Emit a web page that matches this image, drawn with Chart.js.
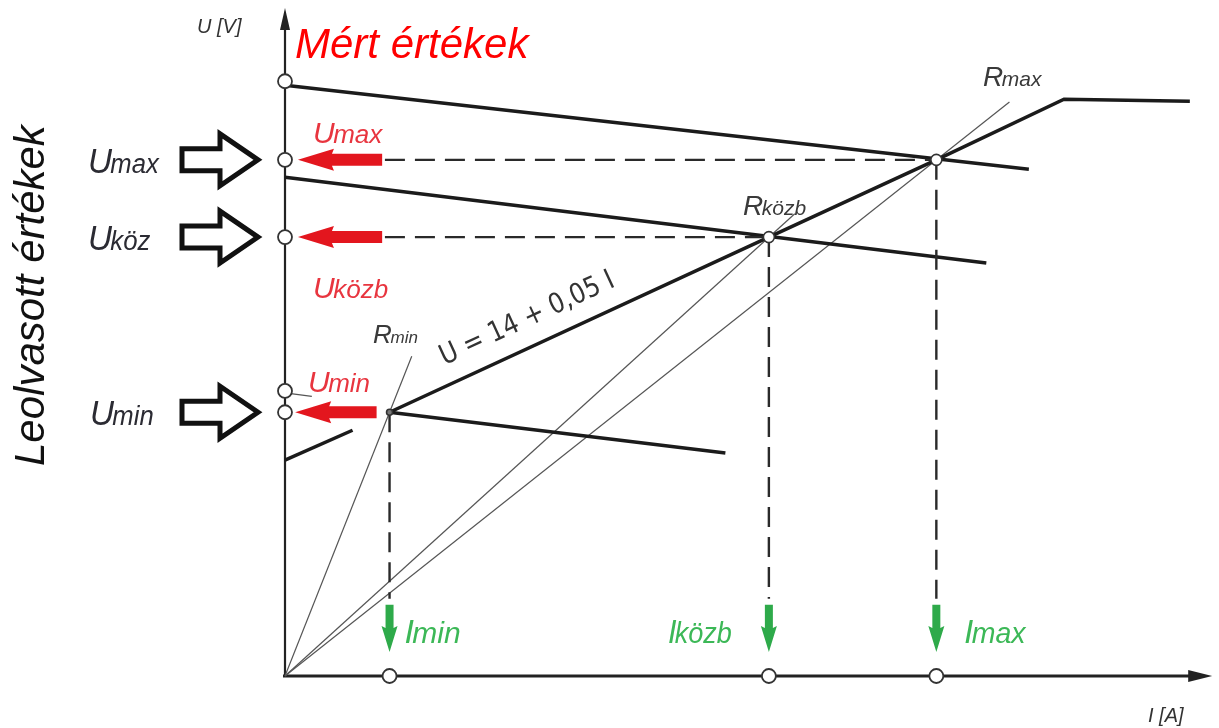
<!DOCTYPE html>
<html>
<head>
<meta charset="utf-8">
<script src="https://cdn.jsdelivr.net/npm/chart.js@4.4.0/dist/chart.umd.min.js"></script>
<style>
  html, body { margin: 0; padding: 0; background: #fff; }
  #wrap { width: 1219px; height: 728px; }
</style>
</head>
<body>
<div id="wrap"><canvas id="chart" width="1219" height="728"></canvas></div>
<script>
// operating points (I, U) in diagram units
var pointNames = ['min', 'közb', 'max'];
var pointI = [11.3, 52.3, 70.4];
var pointU = [39.6, 65.9, 77.5];

// source characteristic U = 14 + 0,05 I, broken by the Umin arrow, then limited
var charAI = [0, 7.3];
var charAU = [32.4, 36.9];
var charBI = [11.3, 52.3, 70.4, 84.2, 97.8];
var charBU = [39.6, 65.9, 77.5, 86.6, 86.3];

// load lines
var loadMaxI = [0, 80.4];
var loadMaxU = [88.7, 76.1];
var loadMidI = [0, 75.8];
var loadMidU = [74.9, 62.0];
var loadMinI = [11.3, 47.6];
var loadMinU = [39.6, 33.5];
var loadStubI = [0, 2.9];
var loadStubU = [42.5, 42.0];

// thin resistance lines from the origin (end points)
var rLineI = [13.7, 55.1, 78.3];
var rLineU = [48.0, 69.4, 86.2];

// marker circles on the U axis
var axisMarkU = [89.3, 77.5, 65.9, 42.8, 39.6];

// dashed projections
var dashStartI = 10.8;
var dashEndU = 11.6;

// arrows: red ones on the U axis, green ones on the I axis
var redArrowU = [77.5, 65.9, 39.6];
var redTipI = [1.4, 1.4, 1.1];
var redTailI = [10.5, 10.5, 9.9];
var greenArrowTopU = 10.7;
var greenArrowTipU = 3.6;

function xy(xs, ys) {
  return xs.map(function (x, i) { return { x: x, y: ys[i] }; });
}

var thick = { borderColor: '#1b1b1b', borderWidth: 3.5, showLine: true, pointRadius: 0, order: 5, clip: false };
var thin = { borderColor: '#555', borderWidth: 1.2, showLine: true, pointRadius: 0, order: 6, clip: false };
var dashed = { borderColor: '#2a2a2a', borderWidth: 2.4, borderDash: [20, 10], showLine: true, pointRadius: 0, order: 4, clip: false };

var datasets = [];
datasets.push(Object.assign({ data: xy(charAI, charAU) }, thick));
datasets.push(Object.assign({ data: xy(charBI, charBU) }, thick));
datasets.push(Object.assign({ data: xy(loadMaxI, loadMaxU) }, thick));
datasets.push(Object.assign({ data: xy(loadMidI, loadMidU) }, thick));
datasets.push(Object.assign({ data: xy(loadMinI, loadMinU) }, thick));
datasets.push(Object.assign({ data: xy(loadStubI, loadStubU) }, thin));
rLineI.forEach(function (x, i) {
  datasets.push(Object.assign({ data: xy([0, x], [0, rLineU[i]]) }, thin));
});
// horizontal dashes for Umax and Uközb
[1, 2].forEach(function (i) {
  datasets.push(Object.assign({ data: xy([dashStartI, pointI[i]], [pointU[i], pointU[i]]) }, dashed));
});
// vertical dashes down to the I axis
pointI.forEach(function (x, i) {
  datasets.push(Object.assign({ data: xy([x, x], [pointU[i], dashEndU]) }, dashed));
});
// hollow circles
datasets.push({
  data: axisMarkU.map(function (u) { return { x: 0, y: u }; }),
  showLine: false, pointRadius: 7, pointBackgroundColor: '#fff',
  pointBorderColor: '#333', pointBorderWidth: 1.8, order: 0, clip: false
});
datasets.push({
  data: pointI.map(function (x) { return { x: x, y: 0 }; }),
  showLine: false, pointRadius: 7, pointBackgroundColor: '#fff',
  pointBorderColor: '#333', pointBorderWidth: 1.8, order: 0, clip: false
});
datasets.push({
  data: xy(pointI, pointU),
  showLine: false, pointRadius: [3, 5.5, 5.5], pointBackgroundColor: ['#777', '#fff', '#fff'],
  pointBorderColor: '#333', pointBorderWidth: 1.6, order: 0, clip: false
});

var FONT = '"Liberation Sans", Arial, sans-serif';

function subLabel(ctx, x, y, main, sub, mainSize, subSize, color, sx) {
  ctx.save();
  ctx.translate(x, y);
  ctx.scale(sx || 1, 1);
  ctx.fillStyle = color;
  ctx.textBaseline = 'alphabetic';
  ctx.textAlign = 'left';
  ctx.font = 'italic ' + mainSize + 'px ' + FONT;
  ctx.fillText(main, 0, 0);
  var w = ctx.measureText(main).width;
  ctx.font = 'italic ' + subSize + 'px ' + FONT;
  ctx.fillText(sub, w - mainSize * 0.05, 0);
  ctx.restore();
}

function hollowArrow(ctx, tx, ty) {
  ctx.save();
  ctx.beginPath();
  ctx.moveTo(tx - 76, ty - 11);
  ctx.lineTo(tx - 38, ty - 11);
  ctx.lineTo(tx - 38, ty - 26);
  ctx.lineTo(tx, ty);
  ctx.lineTo(tx - 38, ty + 26);
  ctx.lineTo(tx - 38, ty + 11);
  ctx.lineTo(tx - 76, ty + 11);
  ctx.closePath();
  ctx.fillStyle = '#fff';
  ctx.fill();
  ctx.lineWidth = 5;
  ctx.lineJoin = 'miter';
  ctx.strokeStyle = '#111';
  ctx.stroke();
  ctx.restore();
}

function leftArrow(ctx, tipX, tailX, y) {
  ctx.save();
  ctx.beginPath();
  ctx.moveTo(tipX, y);
  ctx.lineTo(tipX + 36, y - 11);
  ctx.lineTo(tipX + 34, y - 6);
  ctx.lineTo(tailX, y - 6);
  ctx.lineTo(tailX, y + 6);
  ctx.lineTo(tipX + 34, y + 6);
  ctx.lineTo(tipX + 36, y + 11);
  ctx.closePath();
  ctx.fillStyle = '#e3161e';
  ctx.fill();
  ctx.restore();
}

function downArrow(ctx, x, topY, tipY) {
  ctx.save();
  ctx.beginPath();
  ctx.moveTo(x - 4, topY);
  ctx.lineTo(x + 4, topY);
  ctx.lineTo(x + 4, tipY - 24);
  ctx.lineTo(x + 8, tipY - 26);
  ctx.lineTo(x, tipY);
  ctx.lineTo(x - 8, tipY - 26);
  ctx.lineTo(x - 4, tipY - 24);
  ctx.closePath();
  ctx.fillStyle = '#2eaa4a';
  ctx.fill();
  ctx.restore();
}

var drawings = {
  id: 'drawings',
  beforeDatasetsDraw: function (chart) {
    var ctx = chart.ctx;
    var xs = chart.scales.x, ys = chart.scales.y;
    var ox = xs.getPixelForValue(0), oy = ys.getPixelForValue(0);
    var right = chart.chartArea.right, top = chart.chartArea.top;
    ctx.save();
    ctx.strokeStyle = '#222';
    ctx.fillStyle = '#222';
    // U axis
    ctx.lineWidth = 2.2;
    ctx.beginPath();
    ctx.moveTo(ox, oy + 1);
    ctx.lineTo(ox, top + 18);
    ctx.stroke();
    ctx.beginPath();
    ctx.moveTo(ox, top - 2);
    ctx.lineTo(ox + 5, top + 20);
    ctx.lineTo(ox - 5, top + 20);
    ctx.closePath();
    ctx.fill();
    // I axis
    ctx.lineWidth = 3;
    ctx.beginPath();
    ctx.moveTo(ox - 2, oy);
    ctx.lineTo(right - 20, oy);
    ctx.stroke();
    ctx.beginPath();
    ctx.moveTo(right + 2, oy);
    ctx.lineTo(right - 22, oy - 6);
    ctx.lineTo(right - 22, oy + 6);
    ctx.closePath();
    ctx.fill();
    ctx.restore();
  },
  afterDatasetsDraw: function (chart) {
    var ctx = chart.ctx;
    var xs = chart.scales.x, ys = chart.scales.y;
    var ox = xs.getPixelForValue(0);
    var px = pointI.map(function (v) { return xs.getPixelForValue(v); });
    var py = pointU.map(function (v) { return ys.getPixelForValue(v); });

    // red arrows towards the U axis
    redArrowU.forEach(function (u, i) {
      leftArrow(ctx, xs.getPixelForValue(redTipI[i]), xs.getPixelForValue(redTailI[i]), ys.getPixelForValue(u));
    });
    // green arrows towards the I axis
    px.forEach(function (x) {
      downArrow(ctx, x, ys.getPixelForValue(greenArrowTopU), ys.getPixelForValue(greenArrowTipU));
    });
    // black hollow arrows on the left
    [py[2], py[1], py[0]].forEach(function (y) { hollowArrow(ctx, ox - 27, y); });

    // read values on the left
    subLabel(ctx, 88, py[2] + 13, 'U', 'max', 35, 27, '#2b2b33', 0.95);
    subLabel(ctx, 88, py[1] + 13, 'U', 'köz', 35, 27, '#2b2b33', 0.95);
    subLabel(ctx, 90, py[0] + 13, 'U', 'min', 35, 27, '#2b2b33', 0.95);

    // measured values in red
    subLabel(ctx, 313, py[2] - 17, 'U', 'max', 30, 26, '#e8353f', 1);
    subLabel(ctx, 313, py[1] + 61, 'U', 'közb', 30, 26, '#e8353f', 1);
    subLabel(ctx, 308, py[0] - 20, 'U', 'min', 30, 26, '#e8353f', 1);

    // resistance labels
    subLabel(ctx, 373, 343, 'R', 'min', 26, 17, '#3a3a3a', 1);
    subLabel(ctx, px[1] - 26, py[1] - 22, 'R', 'közb', 28, 21, '#3a3a3a', 1);
    subLabel(ctx, 983, 86, 'R', 'max', 28, 21, '#3a3a3a', 1);

    // current labels in green
    var gy = ys.getPixelForValue(greenArrowTipU) - 9;
    subLabel(ctx, px[0] + 15, gy, 'I', 'min', 34, 30, '#3cb857', 1);
    subLabel(ctx, px[1] - 101, gy, 'I', 'közb', 34, 30, '#3cb857', 0.9);
    subLabel(ctx, px[2] + 28, gy, 'I', 'max', 34, 30, '#3cb857', 0.95);

    ctx.save();
    ctx.textBaseline = 'alphabetic';
    ctx.textAlign = 'left';
    // axis titles
    ctx.fillStyle = '#333';
    ctx.font = 'italic 20px ' + FONT;
    ctx.fillText('U [V]', 197, 33);
    ctx.fillText('I [A]', 1148, 722);
    // headings
    ctx.fillStyle = '#ff0000';
    ctx.font = 'italic 42px ' + FONT;
    ctx.fillText('Mért értékek', 295, 58);
    ctx.save();
    ctx.translate(44, 466);
    ctx.rotate(-Math.PI / 2);
    ctx.fillStyle = '#111';
    ctx.font = 'italic 42px ' + FONT;
    ctx.fillText('Leolvasott értékek', 0, 0);
    ctx.restore();
    // characteristic equation along the line
    var ang = Math.atan2(py[1] - py[0], px[1] - px[0]);
    ctx.translate(px[0] + 55, py[0] - 47);
    ctx.rotate(ang);
    ctx.fillStyle = '#333';
    ctx.font = '28px "DejaVu Sans", sans-serif';
    var txt = 'U = 14 + 0,05 I';
    var w = ctx.measureText(txt).width;
    ctx.scale(189 / w, 1);
    ctx.fillText(txt, 0, 0);
    ctx.restore();
  }
};

new Chart(document.getElementById('chart'), {
  type: 'scatter',
  data: { datasets: datasets },
  options: {
    responsive: false,
    animation: false,
    events: [],
    layout: { padding: { left: 285, right: 4, top: 10, bottom: 52 } },
    plugins: { legend: { display: false }, tooltip: { enabled: false } },
    scales: {
      x: { type: 'linear', min: 0, max: 100, display: false },
      y: { type: 'linear', min: 0, max: 100, display: false }
    }
  },
  plugins: [drawings]
});
</script>
</body>
</html>
